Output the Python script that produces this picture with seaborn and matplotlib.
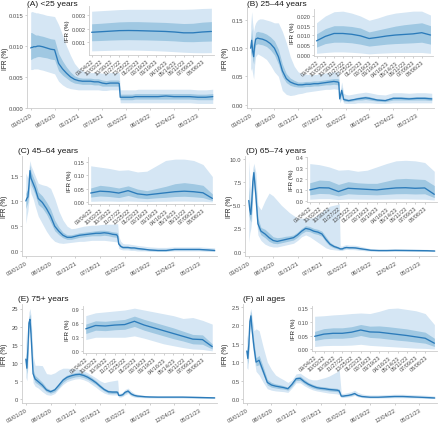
import matplotlib
matplotlib.use('Agg')
import matplotlib.pyplot as plt
import pandas as pd
import seaborn as sns

# dates of the estimates
main_dates = pd.to_datetime([
    '2020-03-01', '2020-03-08', '2020-03-15', '2020-03-22', '2020-03-29', '2020-04-05',
    '2020-04-19', '2020-05-03', '2020-05-24', '2020-06-21', '2020-07-19', '2020-08-16',
    '2020-09-13', '2020-10-11', '2020-11-08', '2020-12-06', '2021-01-03', '2021-01-31',
    '2021-02-28', '2021-03-28', '2021-04-25', '2021-05-23', '2021-06-20', '2021-07-18',
    '2021-08-15', '2021-09-12', '2021-10-10', '2021-11-07', '2021-11-14', '2021-11-21',
    '2021-12-05', '2021-12-19', '2022-01-02', '2022-01-23', '2022-02-13', '2022-03-06',
    '2022-03-27', '2022-04-24', '2022-05-22', '2022-06-19', '2022-08-14', '2022-10-09',
    '2022-12-04', '2023-01-29', '2023-03-26', '2023-05-21', '2023-07-16', '2023-09-03'])
inset_dates = pd.to_datetime([
    '2022-09-04', '2022-10-02', '2022-10-30', '2022-11-27', '2022-12-25', '2023-01-22',
    '2023-02-19', '2023-03-19', '2023-04-16', '2023-05-14', '2023-06-11', '2023-07-09',
    '2023-08-06', '2023-09-03'])

main_ticks = ['03/01/20', '08/16/20', '01/31/21', '07/18/21', '01/02/22', '06/19/22', '12/04/22', '05/21/23']
inset_ticks = ['09/04/22', '10/02/22', '10/30/22', '11/27/22', '12/25/22', '01/22/23', '02/19/23',
               '03/19/23', '04/16/23', '05/14/23', '06/11/23', '07/09/23', '08/06/23']

titles = ['(A) <25 years', '(B) 25–44 years', '(C) 45–64 years',
          '(D) 65–74 years', '(E) 75+ years', '(F) all ages']

# (A) <25
a_mean = [0.0097, 0.0098, 0.0098, 0.0099, 0.0099, 0.0099, 0.0100, 0.0100, 0.0099, 0.0097, 0.0095, 0.0094,
          0.0072, 0.0063, 0.0056, 0.0050, 0.0046, 0.0044, 0.0043, 0.0043, 0.0043, 0.0042, 0.0042, 0.0040,
          0.0039, 0.0040, 0.0040, 0.0040, 0.0039, 0.0017, 0.0017, 0.0017, 0.0017, 0.0017, 0.0017, 0.0018,
          0.0018, 0.0018, 0.0018, 0.0018, 0.0018, 0.0019, 0.0018, 0.0018, 0.0018, 0.0017, 0.0017, 0.0018]
a_lo50 = [0.0078, 0.0079, 0.0080, 0.0081, 0.0081, 0.0082, 0.0083, 0.0083, 0.0082, 0.0081, 0.0079, 0.0078,
          0.0060, 0.0053, 0.0048, 0.0043, 0.0040, 0.0039, 0.0038, 0.0038, 0.0038, 0.0037, 0.0037, 0.0035,
          0.0035, 0.0035, 0.0035, 0.0035, 0.0034, 0.0013, 0.0013, 0.0013, 0.0013, 0.0013, 0.0013, 0.0014,
          0.0014, 0.0014, 0.0014, 0.0014, 0.0014, 0.0014, 0.0014, 0.0014, 0.0014, 0.0013, 0.0013, 0.0013]
a_hi50 = [0.0122, 0.0122, 0.0121, 0.0120, 0.0119, 0.0118, 0.0118, 0.0117, 0.0116, 0.0114, 0.0112, 0.0111,
          0.0088, 0.0076, 0.0066, 0.0058, 0.0052, 0.0049, 0.0048, 0.0048, 0.0048, 0.0047, 0.0047, 0.0045,
          0.0044, 0.0045, 0.0045, 0.0045, 0.0044, 0.0022, 0.0022, 0.0022, 0.0022, 0.0022, 0.0022, 0.0023,
          0.0023, 0.0023, 0.0023, 0.0023, 0.0023, 0.0023, 0.0023, 0.0023, 0.0023, 0.0022, 0.0022, 0.0023]
a_lo95 = [0.0062, 0.0062, 0.0062, 0.0063, 0.0063, 0.0063, 0.0063, 0.0062, 0.0061, 0.0059, 0.0057, 0.0055,
          0.0043, 0.0037, 0.0033, 0.0031, 0.0030, 0.0029, 0.0029, 0.0029, 0.0029, 0.0029, 0.0029, 0.0028,
          0.0028, 0.0029, 0.0029, 0.0029, 0.0028, 0.0008, 0.0008, 0.0008, 0.0008, 0.0008, 0.0008, 0.0008,
          0.0008, 0.0008, 0.0008, 0.0008, 0.0008, 0.0008, 0.0008, 0.0008, 0.0008, 0.0007, 0.0007, 0.0007]
a_hi95 = [0.0155, 0.0156, 0.0156, 0.0155, 0.0155, 0.0154, 0.0154, 0.0153, 0.0152, 0.0150, 0.0149, 0.0148,
          0.0135, 0.0118, 0.0100, 0.0085, 0.0072, 0.0064, 0.0060, 0.0058, 0.0057, 0.0057, 0.0057, 0.0056,
          0.0056, 0.0057, 0.0057, 0.0057, 0.0057, 0.0029, 0.0029, 0.0029, 0.0029, 0.0029, 0.0029, 0.0029,
          0.0030, 0.0030, 0.0030, 0.0030, 0.0030, 0.0030, 0.0030, 0.0030, 0.0030, 0.0029, 0.0029, 0.0030]

# (B) 25-44
b_mean = [0.100, 0.114, 0.095, 0.085, 0.105, 0.116, 0.118, 0.117, 0.116, 0.113, 0.108, 0.100,
          0.085, 0.060, 0.046, 0.040, 0.037, 0.035, 0.035, 0.036, 0.036, 0.037, 0.037, 0.038,
          0.039, 0.040, 0.041, 0.040, 0.039, 0.010, 0.025, 0.009, 0.008, 0.007, 0.008, 0.009,
          0.010, 0.011, 0.012, 0.011, 0.008, 0.007, 0.011, 0.011, 0.010, 0.011, 0.011, 0.010]
b_lo50 = [0.085, 0.095, 0.080, 0.072, 0.095, 0.106, 0.108, 0.107, 0.106, 0.103, 0.097, 0.088,
          0.072, 0.050, 0.039, 0.034, 0.032, 0.031, 0.031, 0.032, 0.032, 0.033, 0.033, 0.034,
          0.035, 0.035, 0.036, 0.035, 0.034, 0.007, 0.019, 0.006, 0.006, 0.005, 0.006, 0.007,
          0.008, 0.008, 0.009, 0.008, 0.006, 0.005, 0.008, 0.008, 0.008, 0.008, 0.008, 0.007]
b_hi50 = [0.115, 0.135, 0.110, 0.100, 0.118, 0.128, 0.130, 0.129, 0.128, 0.125, 0.120, 0.113,
          0.098, 0.072, 0.055, 0.047, 0.043, 0.040, 0.040, 0.041, 0.041, 0.042, 0.042, 0.043,
          0.044, 0.045, 0.046, 0.046, 0.045, 0.013, 0.031, 0.012, 0.011, 0.009, 0.010, 0.011,
          0.013, 0.014, 0.015, 0.014, 0.010, 0.009, 0.014, 0.014, 0.013, 0.014, 0.014, 0.013]
b_lo95 = [0.060, 0.065, 0.055, 0.045, 0.070, 0.085, 0.090, 0.088, 0.085, 0.080, 0.070, 0.058,
          0.050, 0.025, 0.018, 0.016, 0.017, 0.019, 0.020, 0.022, 0.023, 0.024, 0.025, 0.026,
          0.027, 0.027, 0.028, 0.027, 0.026, 0.003, 0.010, 0.003, 0.002, 0.002, 0.002, 0.002,
          0.003, 0.003, 0.003, 0.003, 0.002, 0.002, 0.003, 0.003, 0.003, 0.003, 0.003, 0.003]
b_hi95 = [0.140, 0.165, 0.145, 0.130, 0.140, 0.145, 0.150, 0.152, 0.152, 0.150, 0.148, 0.145,
          0.145, 0.130, 0.110, 0.085, 0.068, 0.058, 0.055, 0.054, 0.053, 0.053, 0.054, 0.055,
          0.056, 0.057, 0.058, 0.058, 0.058, 0.020, 0.040, 0.020, 0.018, 0.017, 0.018, 0.019,
          0.020, 0.021, 0.022, 0.021, 0.018, 0.017, 0.021, 0.021, 0.020, 0.021, 0.021, 0.020]

# (C) 45-64
c_mean = [1.00, 1.05, 1.08, 1.30, 1.60, 1.45, 1.35, 1.25, 1.05, 0.97, 0.85, 0.70,
          0.50, 0.40, 0.32, 0.28, 0.28, 0.30, 0.32, 0.33, 0.34, 0.35, 0.36, 0.36,
          0.37, 0.36, 0.34, 0.33, 0.30, 0.15, 0.10, 0.08, 0.08, 0.08, 0.07, 0.07,
          0.06, 0.05, 0.04, 0.03, 0.02, 0.02, 0.04, 0.04, 0.04, 0.04, 0.03, 0.02]
c_lo50 = [0.85, 0.92, 0.98, 1.15, 1.45, 1.32, 1.23, 1.13, 0.93, 0.86, 0.74, 0.58,
          0.41, 0.33, 0.27, 0.24, 0.24, 0.26, 0.28, 0.29, 0.30, 0.31, 0.31, 0.31,
          0.32, 0.31, 0.29, 0.28, 0.25, 0.12, 0.08, 0.06, 0.06, 0.06, 0.05, 0.05,
          0.04, 0.03, 0.03, 0.02, 0.01, 0.01, 0.03, 0.03, 0.03, 0.03, 0.02, 0.01]
c_hi50 = [1.15, 1.20, 1.22, 1.45, 1.72, 1.58, 1.48, 1.38, 1.18, 1.10, 0.98, 0.84,
          0.62, 0.48, 0.38, 0.33, 0.33, 0.35, 0.37, 0.38, 0.39, 0.40, 0.41, 0.42,
          0.42, 0.41, 0.39, 0.38, 0.36, 0.19, 0.13, 0.10, 0.10, 0.10, 0.09, 0.09,
          0.08, 0.07, 0.06, 0.05, 0.04, 0.04, 0.06, 0.06, 0.06, 0.06, 0.05, 0.04]
c_lo95 = [0.55, 0.70, 0.80, 1.00, 1.30, 1.15, 1.05, 0.90, 0.70, 0.55, 0.40, 0.28,
          0.20, 0.17, 0.16, 0.17, 0.18, 0.19, 0.20, 0.20, 0.21, 0.22, 0.22, 0.22,
          0.22, 0.21, 0.20, 0.19, 0.18, 0.06, 0.04, 0.03, 0.03, 0.03, 0.02, 0.02,
          0.01, 0.01, 0.01, 0.00, 0.00, 0.00, 0.01, 0.01, 0.01, 0.01, 0.00, 0.00]
c_hi95 = [1.55, 1.50, 1.45, 1.65, 1.80, 1.70, 1.60, 1.50, 1.35, 1.32, 1.30, 1.25,
          1.05, 0.80, 0.62, 0.50, 0.45, 0.46, 0.48, 0.50, 0.51, 0.52, 0.52, 0.53,
          0.54, 0.54, 0.54, 0.55, 0.55, 0.30, 0.20, 0.16, 0.15, 0.15, 0.14, 0.13,
          0.12, 0.11, 0.10, 0.09, 0.08, 0.08, 0.09, 0.09, 0.09, 0.09, 0.08, 0.07]

# (D) 65-74
d_mean = [5.5, 4.5, 4.0, 5.5, 7.5, 8.5, 6.0, 3.0, 2.2, 1.9, 1.5, 1.2,
          1.1, 1.2, 1.3, 1.4, 1.5, 1.8, 2.2, 2.5, 2.4, 2.2, 2.1, 1.9,
          1.3, 0.8, 0.55, 0.40, 0.35, 0.30, 0.30, 0.40, 0.45, 0.42, 0.42, 0.40,
          0.35, 0.28, 0.22, 0.15, 0.12, 0.12, 0.14, 0.13, 0.12, 0.11, 0.10, 0.07]
d_lo50 = [4.0, 3.5, 3.2, 4.5, 6.8, 7.8, 5.2, 2.5, 1.8, 1.5, 1.1, 0.9,
          0.85, 0.95, 1.05, 1.15, 1.25, 1.55, 1.95, 2.2, 2.15, 1.95, 1.85, 1.65,
          1.05, 0.6, 0.4, 0.28, 0.25, 0.22, 0.22, 0.32, 0.37, 0.35, 0.35, 0.33,
          0.28, 0.22, 0.17, 0.11, 0.09, 0.09, 0.10, 0.10, 0.09, 0.08, 0.07, 0.05]
d_hi50 = [7.0, 5.5, 4.8, 6.5, 8.2, 9.0, 6.8, 3.6, 2.6, 2.4, 2.0, 1.6,
          1.5, 1.55, 1.65, 1.7, 1.8, 2.1, 2.5, 2.8, 2.7, 2.5, 2.4, 2.2,
          1.6, 1.0, 0.72, 0.55, 0.48, 0.40, 0.40, 0.50, 0.55, 0.52, 0.52, 0.50,
          0.45, 0.36, 0.28, 0.20, 0.16, 0.16, 0.18, 0.17, 0.16, 0.15, 0.14, 0.10]
d_lo95 = [1.0, 2.0, 2.5, 3.5, 6.0, 7.0, 4.0, 1.8, 1.2, 0.8, 0.6, 0.5,
          0.5, 0.6, 0.7, 0.8, 0.9, 1.2, 1.6, 1.8, 1.6, 1.3, 1.0, 0.7,
          0.4, 0.25, 0.2, 0.15, 0.12, 0.12, 0.12, 0.2, 0.25, 0.22, 0.22, 0.2,
          0.15, 0.12, 0.08, 0.05, 0.03, 0.03, 0.03, 0.03, 0.03, 0.03, 0.03, 0.02]
d_hi95 = [9.8, 8.0, 6.0, 8.0, 9.0, 9.5, 8.5, 5.0, 4.5, 5.5, 6.3, 6.0,
          5.5, 5.0, 4.6, 4.2, 3.9, 3.6, 3.6, 3.6, 3.6, 3.7, 4.0, 4.3,
          4.6, 4.9, 5.0, 5.1, 5.2, 0.6, 0.6, 0.7, 0.75, 0.7, 0.7, 0.68,
          0.62, 0.52, 0.42, 0.32, 0.26, 0.26, 0.28, 0.28, 0.27, 0.26, 0.24, 0.20]

# (E) 75+
e_mean = [11.0, 8.5, 14.0, 21.0, 22.0, 18.0, 7.0, 5.5, 4.8, 3.8, 2.5, 2.0,
          2.5, 3.8, 5.2, 6.0, 6.4, 6.7, 6.8, 6.5, 6.0, 5.3, 4.5, 3.5,
          2.6, 2.0, 1.9, 1.9, 1.8, 1.0, 1.0, 1.2, 1.8, 2.2, 1.4, 1.0,
          0.8, 0.7, 0.6, 0.55, 0.5, 0.5, 0.5, 0.5, 0.45, 0.4, 0.35, 0.3]
e_lo50 = [9.0, 7.0, 12.0, 19.5, 20.5, 16.0, 6.0, 4.6, 4.0, 3.1, 2.0, 1.6,
          2.0, 3.2, 4.6, 5.4, 5.8, 6.1, 6.2, 5.9, 5.4, 4.7, 4.0, 3.0,
          2.2, 1.6, 1.5, 1.5, 1.4, 0.8, 0.8, 1.0, 1.5, 1.9, 1.1, 0.8,
          0.6, 0.55, 0.48, 0.44, 0.4, 0.4, 0.4, 0.4, 0.35, 0.3, 0.27, 0.22]
e_hi50 = [13.0, 10.0, 16.0, 22.5, 23.5, 20.0, 8.2, 6.5, 5.7, 4.6, 3.1, 2.5,
          3.0, 4.4, 5.8, 6.6, 7.0, 7.3, 7.4, 7.1, 6.6, 5.9, 5.0, 4.0,
          3.0, 2.4, 2.3, 2.3, 2.2, 1.2, 1.2, 1.45, 2.1, 2.5, 1.7, 1.2,
          1.0, 0.85, 0.72, 0.66, 0.6, 0.6, 0.6, 0.6, 0.55, 0.5, 0.43, 0.38]
e_lo95 = [6.0, 5.0, 9.0, 17.0, 19.0, 13.0, 4.5, 3.5, 3.0, 2.0, 1.2, 1.0,
          1.5, 2.8, 4.0, 4.8, 5.2, 5.5, 5.6, 5.3, 4.8, 4.0, 3.2, 2.3,
          1.6, 1.2, 1.1, 1.1, 1.0, 0.5, 0.5, 0.7, 1.1, 1.5, 0.8, 0.5,
          0.4, 0.35, 0.3, 0.28, 0.25, 0.25, 0.25, 0.25, 0.22, 0.18, 0.15, 0.12]
e_hi95 = [19.0, 13.0, 19.0, 24.0, 25.0, 23.0, 12.0, 9.3, 9.3, 9.2, 7.0, 6.8,
          7.2, 8.0, 8.5, 8.5, 8.4, 8.3, 8.2, 7.8, 7.2, 6.5, 5.8, 5.0,
          4.5, 4.8, 5.0, 5.2, 5.2, 1.6, 1.6, 1.9, 2.6, 3.0, 2.2, 1.6,
          1.3, 1.1, 0.95, 0.9, 0.85, 0.85, 0.85, 0.85, 0.8, 0.75, 0.65, 0.6]

# (F) all ages
f_mean = [1.30, 1.10, 1.50, 2.10, 2.25, 1.90, 1.40, 1.00, 1.05, 0.75, 0.45, 0.38,
          0.35, 0.33, 0.31, 0.28, 0.40, 0.55, 0.56, 0.47, 0.40, 0.35, 0.31, 0.29,
          0.28, 0.26, 0.25, 0.24, 0.23, 0.22, 0.08, 0.08, 0.09, 0.10, 0.12, 0.15,
          0.10, 0.07, 0.06, 0.05, 0.05, 0.06, 0.07, 0.07, 0.06, 0.05, 0.04, 0.03]
f_lo50 = [1.15, 0.95, 1.35, 1.95, 2.12, 1.75, 1.28, 0.90, 0.93, 0.65, 0.38, 0.32,
          0.30, 0.28, 0.27, 0.24, 0.35, 0.50, 0.50, 0.42, 0.35, 0.30, 0.27, 0.25,
          0.24, 0.22, 0.21, 0.20, 0.19, 0.18, 0.065, 0.065, 0.075, 0.085, 0.10, 0.13,
          0.085, 0.058, 0.05, 0.04, 0.04, 0.05, 0.058, 0.058, 0.05, 0.04, 0.032, 0.024]
f_hi50 = [1.45, 1.25, 1.65, 2.25, 2.38, 2.05, 1.55, 1.12, 1.18, 0.87, 0.53, 0.45,
          0.41, 0.39, 0.36, 0.32, 0.45, 0.60, 0.62, 0.53, 0.45, 0.40, 0.36, 0.34,
          0.33, 0.31, 0.30, 0.29, 0.28, 0.27, 0.10, 0.10, 0.11, 0.12, 0.14, 0.17,
          0.12, 0.085, 0.072, 0.062, 0.062, 0.072, 0.085, 0.085, 0.072, 0.062, 0.05, 0.038]
f_lo95 = [0.85, 0.80, 1.20, 1.80, 2.00, 1.55, 1.10, 0.75, 0.65, 0.45, 0.28, 0.24,
          0.22, 0.21, 0.20, 0.18, 0.30, 0.44, 0.44, 0.36, 0.30, 0.25, 0.22, 0.20,
          0.18, 0.16, 0.15, 0.14, 0.13, 0.12, 0.04, 0.04, 0.05, 0.06, 0.07, 0.10,
          0.06, 0.04, 0.03, 0.025, 0.025, 0.03, 0.035, 0.035, 0.03, 0.025, 0.02, 0.015]
f_hi95 = [1.75, 1.60, 1.85, 2.35, 2.45, 2.25, 1.85, 1.90, 1.85, 1.40, 1.00, 0.80,
          0.65, 0.58, 0.52, 0.45, 0.52, 0.68, 0.70, 0.62, 0.55, 0.52, 0.52, 0.55,
          0.58, 0.62, 0.68, 0.74, 0.78, 0.80, 0.16, 0.15, 0.16, 0.18, 0.20, 0.24,
          0.18, 0.14, 0.12, 0.11, 0.11, 0.12, 0.13, 0.13, 0.12, 0.11, 0.10, 0.08]

# insets: last year, every 4 weeks
ia_mean = [0.00174, 0.00178, 0.00182, 0.00186, 0.00187, 0.00186, 0.00184, 0.00182, 0.00180, 0.00176, 0.00170, 0.00170, 0.00176, 0.00180]
ia_lo50 = [0.00112, 0.00114, 0.00117, 0.00119, 0.00120, 0.00119, 0.00118, 0.00116, 0.00114, 0.00111, 0.00106, 0.00105, 0.00108, 0.00110]
ia_hi50 = [0.00236, 0.00240, 0.00245, 0.00250, 0.00252, 0.00252, 0.00250, 0.00248, 0.00246, 0.00242, 0.00238, 0.00240, 0.00248, 0.00252]
ia_lo95 = [0.00038, 0.00040, 0.00042, 0.00044, 0.00044, 0.00043, 0.00041, 0.00039, 0.00036, 0.00032, 0.00028, 0.00025, 0.00024, 0.00025]
ia_hi95 = [0.00328, 0.00332, 0.00336, 0.00340, 0.00342, 0.00342, 0.00342, 0.00342, 0.00342, 0.00342, 0.00342, 0.00344, 0.00348, 0.00350]

ib_mean = [0.0072, 0.0095, 0.0110, 0.0110, 0.0106, 0.0098, 0.0084, 0.0090, 0.0097, 0.0102, 0.0105, 0.0108, 0.0114, 0.0102]
ib_lo50 = [0.0040, 0.0058, 0.0065, 0.0065, 0.0062, 0.0055, 0.0045, 0.0050, 0.0055, 0.0058, 0.0060, 0.0062, 0.0065, 0.0055]
ib_hi50 = [0.0108, 0.0135, 0.0150, 0.0150, 0.0146, 0.0138, 0.0118, 0.0128, 0.0138, 0.0148, 0.0155, 0.0160, 0.0165, 0.0150]
ib_lo95 = [0.0008, 0.0012, 0.0015, 0.0015, 0.0013, 0.0010, 0.0005, 0.0008, 0.0010, 0.0012, 0.0012, 0.0012, 0.0012, 0.0008]
ib_hi95 = [0.0165, 0.0200, 0.0222, 0.0225, 0.0215, 0.0200, 0.0178, 0.0190, 0.0205, 0.0215, 0.0220, 0.0225, 0.0225, 0.0205]

ic_mean = [0.033, 0.040, 0.038, 0.033, 0.042, 0.030, 0.026, 0.030, 0.034, 0.038, 0.040, 0.038, 0.034, 0.013]
ic_lo50 = [0.018, 0.022, 0.020, 0.016, 0.024, 0.015, 0.012, 0.015, 0.017, 0.020, 0.021, 0.019, 0.016, 0.005]
ic_hi50 = [0.052, 0.062, 0.058, 0.052, 0.060, 0.048, 0.042, 0.050, 0.058, 0.068, 0.072, 0.068, 0.062, 0.030]
ic_lo95 = [0.002, 0.003, 0.003, 0.002, 0.003, 0.002, 0.001, 0.002, 0.002, 0.003, 0.003, 0.002, 0.002, 0.000]
ic_hi95 = [0.135, 0.130, 0.125, 0.118, 0.120, 0.112, 0.115, 0.135, 0.155, 0.160, 0.160, 0.155, 0.140, 0.095]

id_mean = [0.100, 0.120, 0.118, 0.085, 0.115, 0.110, 0.105, 0.100, 0.110, 0.118, 0.120, 0.115, 0.118, 0.060]
id_lo50 = [0.055, 0.068, 0.065, 0.045, 0.065, 0.060, 0.058, 0.055, 0.060, 0.065, 0.066, 0.063, 0.065, 0.030]
id_hi50 = [0.165, 0.190, 0.185, 0.150, 0.175, 0.165, 0.160, 0.160, 0.180, 0.200, 0.205, 0.200, 0.195, 0.140]
id_lo95 = [0.015, 0.020, 0.020, 0.012, 0.018, 0.016, 0.015, 0.015, 0.016, 0.018, 0.018, 0.016, 0.015, 0.008]
id_hi95 = [0.340, 0.330, 0.310, 0.280, 0.285, 0.270, 0.280, 0.310, 0.340, 0.365, 0.370, 0.365, 0.350, 0.270]

ie_mean = [0.48, 0.55, 0.54, 0.56, 0.57, 0.64, 0.56, 0.50, 0.44, 0.38, 0.32, 0.26, 0.25, 0.10]
ie_lo50 = [0.38, 0.45, 0.44, 0.46, 0.47, 0.53, 0.45, 0.39, 0.33, 0.27, 0.22, 0.16, 0.15, 0.05]
ie_hi50 = [0.58, 0.65, 0.64, 0.66, 0.68, 0.75, 0.68, 0.62, 0.56, 0.50, 0.43, 0.36, 0.35, 0.16]
ie_lo95 = [0.25, 0.30, 0.30, 0.30, 0.30, 0.33, 0.28, 0.22, 0.16, 0.12, 0.08, 0.05, 0.04, 0.01]
ie_hi95 = [0.76, 0.82, 0.84, 0.86, 0.88, 0.92, 0.88, 0.84, 0.80, 0.76, 0.70, 0.72, 0.66, 0.58]

if_mean = [0.047, 0.055, 0.058, 0.058, 0.062, 0.070, 0.063, 0.062, 0.058, 0.054, 0.050, 0.045, 0.040, 0.022]
if_lo50 = [0.032, 0.038, 0.040, 0.040, 0.043, 0.050, 0.043, 0.041, 0.037, 0.033, 0.030, 0.026, 0.022, 0.010]
if_hi50 = [0.065, 0.075, 0.078, 0.078, 0.082, 0.090, 0.084, 0.085, 0.082, 0.078, 0.074, 0.068, 0.062, 0.040]
if_lo95 = [0.010, 0.013, 0.014, 0.014, 0.015, 0.018, 0.014, 0.012, 0.010, 0.008, 0.006, 0.004, 0.003, 0.001]
if_hi95 = [0.120, 0.122, 0.125, 0.127, 0.130, 0.132, 0.130, 0.138, 0.148, 0.150, 0.145, 0.140, 0.130, 0.090]

main_yticks = [[0.000, 0.005, 0.010, 0.015], [0.00, 0.05, 0.10, 0.15], [0.0, 0.5, 1.0, 1.5],
               [0.0, 2.5, 5.0, 7.5, 10.0], [0, 5, 10, 15, 20, 25], [0.0, 0.5, 1.0, 1.5, 2.0, 2.5]]
main_yfmt = ['%.3f', '%.2f', '%.1f', '%.1f', '%.0f', '%.1f']
inset_yticks = [[0.001, 0.002, 0.003], [0.000, 0.005, 0.010, 0.015, 0.020], [0.00, 0.05, 0.10, 0.15],
                [0.0, 0.1, 0.2, 0.3, 0.4], [0.0, 0.3, 0.6, 0.9], [0.00, 0.05, 0.10, 0.15]]
inset_yfmt = ['%.3f', '%.3f', '%.2f', '%.1f', '%.1f', '%.2f']

mains = [(a_mean, a_lo50, a_hi50, a_lo95, a_hi95), (b_mean, b_lo50, b_hi50, b_lo95, b_hi95),
         (c_mean, c_lo50, c_hi50, c_lo95, c_hi95), (d_mean, d_lo50, d_hi50, d_lo95, d_hi95),
         (e_mean, e_lo50, e_hi50, e_lo95, e_hi95), (f_mean, f_lo50, f_hi50, f_lo95, f_hi95)]
insets = [(ia_mean, ia_lo50, ia_hi50, ia_lo95, ia_hi95), (ib_mean, ib_lo50, ib_hi50, ib_lo95, ib_hi95),
          (ic_mean, ic_lo50, ic_hi50, ic_lo95, ic_hi95), (id_mean, id_lo50, id_hi50, id_lo95, id_hi95),
          (ie_mean, ie_lo50, ie_hi50, ie_lo95, ie_hi95), (if_mean, if_lo50, if_hi50, if_lo95, if_hi95)]

# layout in pixels: left, top, right, bottom
main_box = [(27, 8, 215, 109), (247, 8, 434, 109), (22, 157, 217, 257),
            (245, 157, 437, 257), (22, 305, 217, 404), (243, 305, 437, 404)]
inset_box = [(89, 7, 214, 56), (314, 10, 433, 57), (88, 158, 215, 205),
             (307, 158, 437, 203), (83, 307, 215, 354), (312, 307, 437, 352)]
title_xy = [(27, 5), (247, 5), (18, 152), (246, 152), (18, 300), (243, 300)]
ylabel_x = [8.5, 229, 7.5, 233, 7.5, 229]   # right edge of the rotated y label

W, H = 440, 427
LIGHT = '#d5e6f4'
DARK = '#a0c8e2'
LINE = '#2b7bba'
GREY = '#4d4d4d'

sns.set_style('white')
plt.rcParams['font.family'] = ['Liberation Sans', 'DejaVu Sans']

fig = plt.figure(figsize=(W / 100, H / 100), dpi=100)


def rect(b):
    l, t, r, bt = b
    return [l / W, 1 - bt / H, (r - l) / W, (bt - t) / H]


def style(ax, yt, yf, tick_labels, rot, fs):
    for s in ['top', 'right']:
        ax.spines[s].set_visible(False)
    for s in ['left', 'bottom']:
        ax.spines[s].set_color('#cccccc')
        ax.spines[s].set_linewidth(0.6)
    ax.set_yticks(yt)
    ax.set_yticklabels([yf % v for v in yt])
    ax.set_xticks(pd.to_datetime(tick_labels, format='%m/%d/%y'))
    ax.set_xticklabels(tick_labels, rotation=rot, ha='right', rotation_mode='anchor')
    ax.tick_params(axis='both', labelsize=fs, colors='#bbbbbb', labelcolor=GREY,
                   length=1.6, width=0.5, pad=1.0, left=True, bottom=True)
    ax.set_xlabel('')
    ax.set_ylabel('IFR (%)', fontsize=fs + 0.5, color='#1a1a1a', labelpad=1.0)


def draw(ax, dates, m, lo50, hi50, lo95, hi95):
    ax.fill_between(dates, lo95, hi95, color=LIGHT, lw=0)
    ax.fill_between(dates, lo50, hi50, color=DARK, lw=0)
    sns.lineplot(x=dates, y=m, ax=ax, color=LINE, lw=0.95)


for i in range(6):
    box = main_box[i]
    ax = fig.add_axes(rect(box))
    draw(ax, main_dates, *mains[i])
    ax.set_xlim(main_dates[0] - pd.Timedelta(days=26), main_dates[-1] + pd.Timedelta(days=16))
    style(ax, main_yticks[i], main_yfmt[i], main_ticks, 30, 4.2)
    # put the y label where the reference has it
    ax.yaxis.set_label_coords((ylabel_x[i] - box[0]) / (box[2] - box[0]), 0.5)
    fig.text(title_xy[i][0] / W, 1 - title_xy[i][1] / H, titles[i], fontsize=6.0,
             color='#1a1a1a', va='center', ha='left')

    ins = fig.add_axes(rect(inset_box[i]))
    ins.set_facecolor('white')
    draw(ins, inset_dates, *insets[i])
    ins.set_xlim(inset_dates[0] - pd.Timedelta(days=8), inset_dates[-1] + pd.Timedelta(days=8))
    style(ins, inset_yticks[i], inset_yfmt[i], inset_ticks, 40, 4.0)

fig.savefig('out.png', dpi=100)
